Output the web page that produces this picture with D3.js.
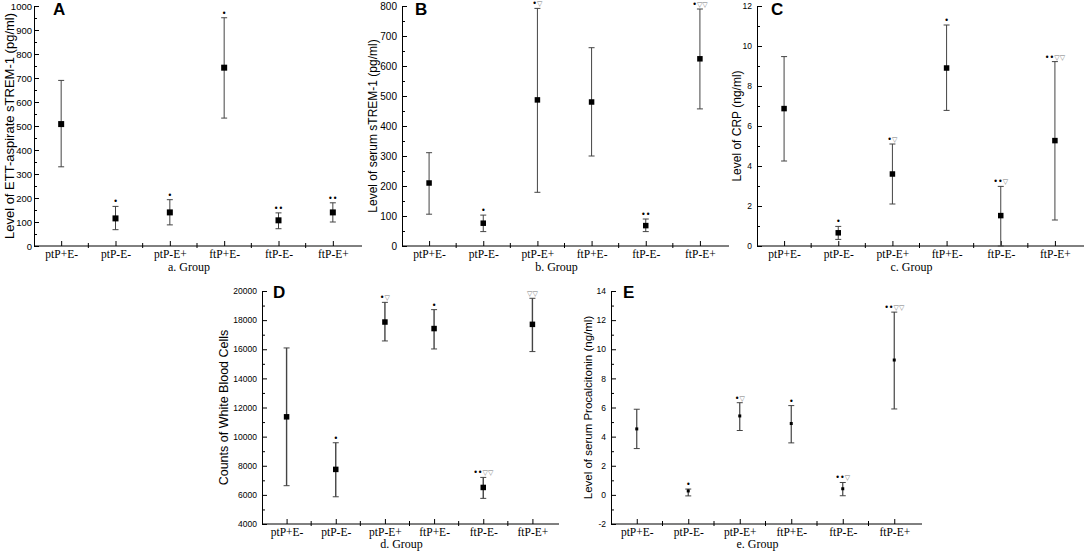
<!DOCTYPE html>
<html>
<head>
<meta charset="utf-8">
<script src="https://cdn.jsdelivr.net/npm/d3@7"></script>
<style>
  body { margin: 0; background: #fff; }
  svg { display: block; }
</style>
</head>
<body>
<div id="chart"></div>
<script>
// Groups on every x axis
const groups = ["ptP+E-", "ptP-E-", "ptP-E+", "ftP+E-", "ftP-E-", "ftP-E+"];

// A: ETT-aspirate sTREM-1 (pg/ml)
const ettMean = [508, 115, 140, 743, 107, 140];
const ettLow = [330, 68, 88, 533, 72, 100];
const ettHigh = [690, 165, 193, 951, 138, 180];
const ettMarks = ["", "*", "*", "*", "**", "**"];

// B: serum sTREM-1 (pg/ml)
const serumMean = [210, 76, 487, 480, 68, 624];
const serumLow = [106, 48, 179, 300, 48, 457];
const serumHigh = [311, 103, 792, 661, 90, 790];
const serumMarks = ["", "*", "*▽", "", "**", "*▽▽"];

// C: CRP (ng/ml)
const crpMean = [6.87, 0.66, 3.6, 8.9, 1.52, 5.27];
const crpLow = [4.25, 0.33, 2.1, 6.78, 0, 1.3];
const crpHigh = [9.47, 0.98, 5.1, 11.05, 2.98, 9.22];
const crpMarks = ["", "*", "*▽", "*", "**▽", "**▽▽"];

// D: white blood cells
const wbcMean = [11360, 7750, 17870, 17420, 6510, 17710];
const wbcLow = [6630, 5870, 16570, 16020, 5760, 15840];
const wbcHigh = [16090, 9580, 19220, 18720, 7200, 19500];
const wbcMarks = ["", "*", "*▽", "*", "**▽▽", "▽▽"];

// E: serum procalcitonin (ng/ml)
const pctMean = [4.53, 0.27, 5.42, 4.9, 0.42, 9.26];
const pctLow = [3.18, -0.07, 4.42, 3.57, -0.06, 5.9];
const pctHigh = [5.88, 0.4, 6.33, 6.13, 0.85, 12.55];
const pctMarks = ["", "*", "*▽", "*", "**▽", "**▽▽"];

const width = 1084;
const height = 551;

const svg = d3.select("#chart")
    .append("svg")
    .attr("width", width)
    .attr("height", height);

// panel layout
const panels = [
    { letter: "A", mean: ettMean, low: ettLow, high: ettHigh, marks: ettMarks,
      x0: 34, x1: 360, top: 6, bottom: 246, domain: [0, 1000], major: 100, minor: 50,
      tickFont: 9.5, pad: 2, title: "Level of ETT-aspirate sTREM-1 (pg/ml)", titleX: 9.5, titleSize: 13,
      xTitle: "a. Group", catY: 258, xTitleY: 271, letterX: 53, letterY: 15, box: 6, barW: 1 },
    { letter: "B", mean: serumMean, low: serumLow, high: serumHigh, marks: serumMarks,
      x0: 402, x1: 727, top: 6, bottom: 246, domain: [0, 800], major: 100, minor: 50,
      tickFont: 10, pad: 5, title: "Level of serum sTREM-1 (pg/ml)", titleX: 373, titleSize: 12,
      xTitle: "b. Group", catY: 258, xTitleY: 271, letterX: 415, letterY: 15, box: 5.5, barW: 1 },
    { letter: "C", mean: crpMean, low: crpLow, high: crpHigh, marks: crpMarks,
      x0: 757, x1: 1082, top: 6, bottom: 246, domain: [0, 12], major: 2, minor: 1,
      tickFont: 8.5, pad: 5, title: "Level of CRP (ng/ml)", titleX: 737, titleSize: 12,
      xTitle: "c. Group", catY: 258, xTitleY: 271, letterX: 771, letterY: 15, box: 5.5, barW: 1 },
    { letter: "D", mean: wbcMean, low: wbcLow, high: wbcHigh, marks: wbcMarks,
      x0: 262, x1: 557, top: 291, bottom: 524, domain: [4000, 20000], major: 2000, minor: 1000,
      tickFont: 8.5, pad: 5, title: "Counts of White Blood Cells", titleX: 224, titleSize: 12.5,
      xTitle: "d. Group", catY: 536, xTitleY: 548, letterX: 273, letterY: 298, box: 5.5, barW: 1.4 },
    { letter: "E", mean: pctMean, low: pctLow, high: pctHigh, marks: pctMarks,
      x0: 611, x1: 920, top: 291, bottom: 524, domain: [-2, 14], major: 2, minor: 1,
      tickFont: 8.5, pad: 5, title: "Level of serum Procalcitonin (ng/ml)", titleX: 588, titleSize: 11.5,
      xTitle: "e. Group", catY: 536, xTitleY: 548, letterX: 623, letterY: 298, box: 3, barW: 1.2 }
];

panels.forEach(function (p) {
    const g = svg.append("g");

    const x = d3.scalePoint()
        .domain(groups)
        .range([p.x0, p.x1])
        .padding(0.5);

    const y = d3.scaleLinear()
        .domain(p.domain)
        .range([p.bottom, p.top]);

    // y axis, major ticks pointing inward
    const yAxis = g.append("g")
        .attr("transform", `translate(${p.x0}, 0)`)
        .call(d3.axisLeft(y)
            .tickValues(d3.range(p.domain[0], p.domain[1] + p.major / 2, p.major))
            .tickFormat(function (d) { return String(d); })
            .tickSizeInner(-5)
            .tickSizeOuter(0)
            .tickPadding(p.pad));
    yAxis.selectAll("text")
        .attr("font-family", "Arial, 'Liberation Sans', sans-serif")
        .attr("font-size", p.tickFont)
        .attr("fill", "#000");

    // y minor ticks
    g.append("g")
        .attr("transform", `translate(${p.x0}, 0)`)
        .call(d3.axisLeft(y)
            .tickValues(d3.range(p.domain[0] + p.minor, p.domain[1], p.major))
            .tickSizeInner(-3)
            .tickSizeOuter(0)
            .tickFormat(""))
        .select(".domain").remove();

    // x axis
    const xAxis = g.append("g")
        .attr("transform", `translate(0, ${p.bottom})`)
        .call(d3.axisBottom(x)
            .tickSizeInner(-5)
            .tickSizeOuter(0)
            .tickPadding(0));
    xAxis.select(".domain").attr("d", `M${p.x0},0H${p.x1 + 2}`);
    xAxis.selectAll("text")
        .attr("y", p.catY - p.bottom)
        .attr("dy", 0)
        .attr("font-family", "'Times New Roman', 'Liberation Serif', serif")
        .attr("font-size", 11.5)
        .attr("fill", "#000");

    // x minor ticks between groups
    const mids = d3.pairs(groups).map(function (pair) { return (x(pair[0]) + x(pair[1])) / 2; });
    g.selectAll(".xminor")
        .data(mids)
        .join("line")
        .attr("x1", function (d) { return d; })
        .attr("x2", function (d) { return d; })
        .attr("y1", p.bottom - 3)
        .attr("y2", p.bottom + 2)
        .attr("stroke", "#000");

    // error bars
    const bars = g.selectAll(".bar")
        .data(groups)
        .join("g");

    bars.append("line")
        .attr("x1", function (d) { return x(d); })
        .attr("x2", function (d) { return x(d); })
        .attr("y1", function (d, i) { return y(p.low[i]); })
        .attr("y2", function (d, i) { return y(p.high[i]); })
        .attr("stroke", "#444")
        .attr("stroke-width", p.barW);

    [p.low, p.high].forEach(function (arr) {
        bars.append("line")
            .attr("x1", function (d) { return x(d) - 3; })
            .attr("x2", function (d) { return x(d) + 3; })
            .attr("y1", function (d, i) { return y(arr[i]); })
            .attr("y2", function (d, i) { return y(arr[i]); })
            .attr("stroke", "#444")
            .attr("stroke-width", 1);
    });

    bars.append("rect")
        .attr("x", function (d) { return x(d) - p.box / 2; })
        .attr("y", function (d, i) { return y(p.mean[i]) - p.box / 2; })
        .attr("width", p.box)
        .attr("height", p.box)
        .attr("fill", "#000");

    // significance marks above the upper cap
    const marks = bars.append("text")
        .attr("x", function (d) { return x(d); })
        .attr("y", function (d, i) { return y(p.high[i]) - 2; })
        .attr("text-anchor", "middle")
        .attr("font-family", "'DejaVu Sans', sans-serif")
        .attr("font-size", 7);
    marks.each(function (d, i) {
        const t = d3.select(this);
        Array.from(p.marks[i]).forEach(function (c) {
            t.append("tspan")
                .attr("fill", c === "*" ? "#000" : "#777")
                .attr("font-size", c === "*" ? 8 : 7)
                .text(c === "*" ? "•" : c);
        });
    });

    // axis titles
    g.append("text")
        .attr("transform", `translate(${p.titleX}, ${(p.top + p.bottom) / 2}) rotate(-90)`)
        .attr("text-anchor", "middle")
        .attr("dominant-baseline", "central")
        .attr("font-family", "Arial, 'Liberation Sans', sans-serif")
        .attr("font-size", p.titleSize)
        .text(p.title);

    g.append("text")
        .attr("x", (p.x0 + p.x1) / 2 - 8)
        .attr("y", p.xTitleY)
        .attr("text-anchor", "middle")
        .attr("font-family", "'Times New Roman', 'Liberation Serif', serif")
        .attr("font-size", 12)
        .text(p.xTitle);

    // panel letter
    g.append("text")
        .attr("x", p.letterX)
        .attr("y", p.letterY)
        .attr("font-family", "Arial, 'Liberation Sans', sans-serif")
        .attr("font-weight", "bold")
        .attr("font-size", 17)
        .text(p.letter);
});
</script>
</body>
</html>
